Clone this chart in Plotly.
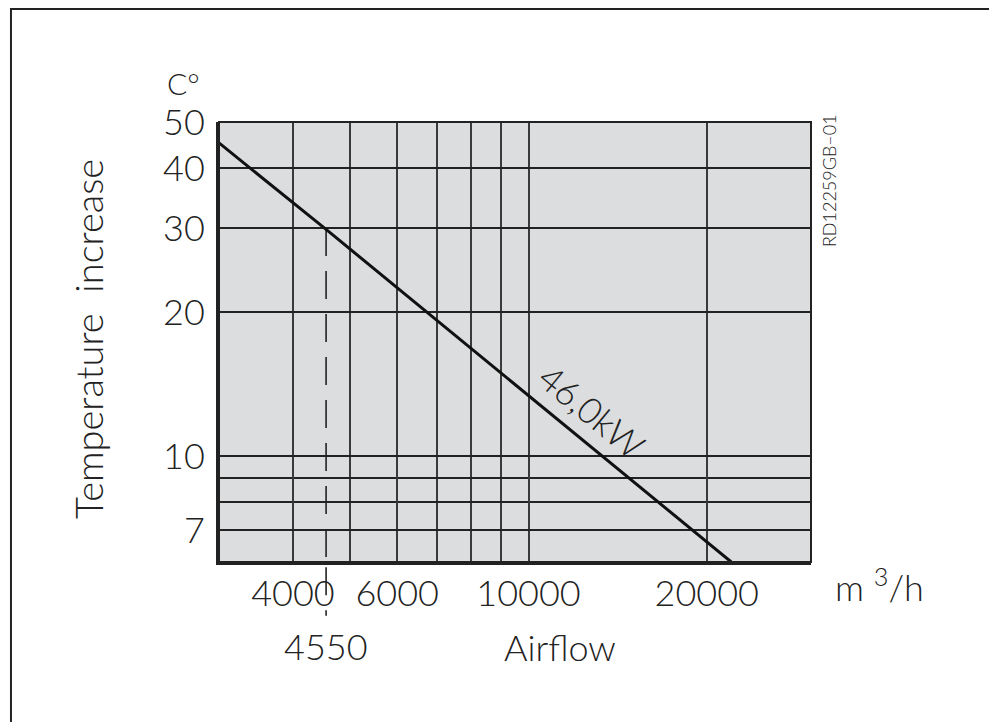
import numpy as np
import plotly.graph_objects as go

# ---- data ----
airflow = [3000, 4550, 22000]          # m3/h
temp_rise = [45.2, 29.8, 6.0]          # C
curve_label = "46,0kW"
marker_airflow = 4550
marker_temp = 30

x_label_vals = [4000, 6000, 10000, 20000]
x_label_text = ["4000", "6000", "10000", "20000"]
x_minor_grid = [5000, 7000, 8000, 9000]
y_label_vals = [7, 10, 20, 30, 40, 50]
y_label_text = ["7", "10", "20", "30", "40", "50"]
y_minor_grid = [8, 9]
x_min, x_max = 3000, 30000
y_min, y_max = 6, 50

FONT = "Lato"
TXT = "#222222"
font_big = dict(family=FONT, size=36, color=TXT, weight=300)

fig = go.Figure()

# dashed marker line inside the plot
fig.add_trace(go.Scatter(
    x=[marker_airflow, marker_airflow], y=[marker_temp, y_min * 0.9],
    mode="lines", line=dict(color="#222", width=1.6, dash="28px,15px"),
    hoverinfo="skip", showlegend=False))

# main curve
fig.add_trace(go.Scatter(
    x=airflow, y=temp_rise, mode="lines",
    line=dict(color="#111", width=3), showlegend=False))

axis_common = dict(
    type="log", showgrid=True, gridwidth=1.6,
    showline=True, linecolor="#222", linewidth=3, ticks="",
    zeroline=False, tickfont=font_big, tickmode="array")

fig.update_xaxes(range=[np.log10(x_min), np.log10(x_max)],
                 tickvals=x_label_vals, ticktext=x_label_text,
                 gridcolor="#3a3a3a",
                 minor=dict(tickmode="array", tickvals=x_minor_grid, showgrid=True,
                            gridcolor="#3a3a3a", gridwidth=1.6, ticks=""),
                 ticklabelstandoff=-2, **axis_common)
fig.update_yaxes(range=[np.log10(y_min), np.log10(y_max)],
                 tickvals=y_label_vals, ticktext=y_label_text,
                 gridcolor="#222",
                 minor=dict(tickmode="array", tickvals=y_minor_grid, showgrid=True,
                            gridcolor="#222", gridwidth=1.6, ticks=""),
                 ticklabelstandoff=4, **axis_common)

shapes = [
    # plot frame (top/right edges)
    dict(type="rect", xref="paper", yref="paper", x0=0, x1=1, y0=0, y1=1,
         line=dict(color="#222", width=2), layer="above"),
    # outer drawing border
    dict(type="rect", xref="paper", yref="paper", x0=-0.3514, x1=1.3074,
         y0=-0.6, y1=1.2568, line=dict(color="#222", width=2)),
    # dashed marker extension below the axis
    dict(type="line", xref="x", yref="paper", x0=marker_airflow, x1=marker_airflow,
         y0=-0.012, y1=-0.122, line=dict(color="#222", width=1.6, dash="28px,15px")),
]

def ann(text, x, y, xref="paper", yref="paper", font=font_big, **kw):
    return dict(text=text, xref=xref, yref=yref, x=x, y=y, showarrow=False,
                xanchor="center", yanchor=kw.pop("yanchor", "middle"), font=font, **kw)

annotations = [
    ann("C°", -0.0608, 1.0886, font=dict(family=FONT, size=30, color=TXT, weight=300)),
    ann("Temperature  increase", -0.221, 0.507, textangle=-90,
        font=dict(family=FONT, size=38, color=TXT, weight=300)),
    ann("m <sup>3</sup>/h", 1.1149, -0.052),
    ann(str(marker_airflow), np.log10(marker_airflow), -0.191, xref="x"),
    ann("Airflow", 0.576, -0.193),
    ann("RD12259GB–01", 1.0304, 0.868, textangle=-90,
        font=dict(family=FONT, size=18, color=TXT, weight=300)),
    ann(curve_label, np.log10(12800), np.log10(12.4), xref="x", yref="y",
        textangle=39.4),
    ann("g", 0.167, 1.2477, yanchor="bottom",
        font=dict(family=FONT, size=20, color=TXT)),
]

fig.update_layout(
    width=989, height=714,
    margin=dict(l=211, r=186, t=114, b=160, autoexpand=False),
    paper_bgcolor="white", plot_bgcolor="#dcdddf",
    shapes=shapes, annotations=annotations, showlegend=False)

fig.write_html("out.html")
